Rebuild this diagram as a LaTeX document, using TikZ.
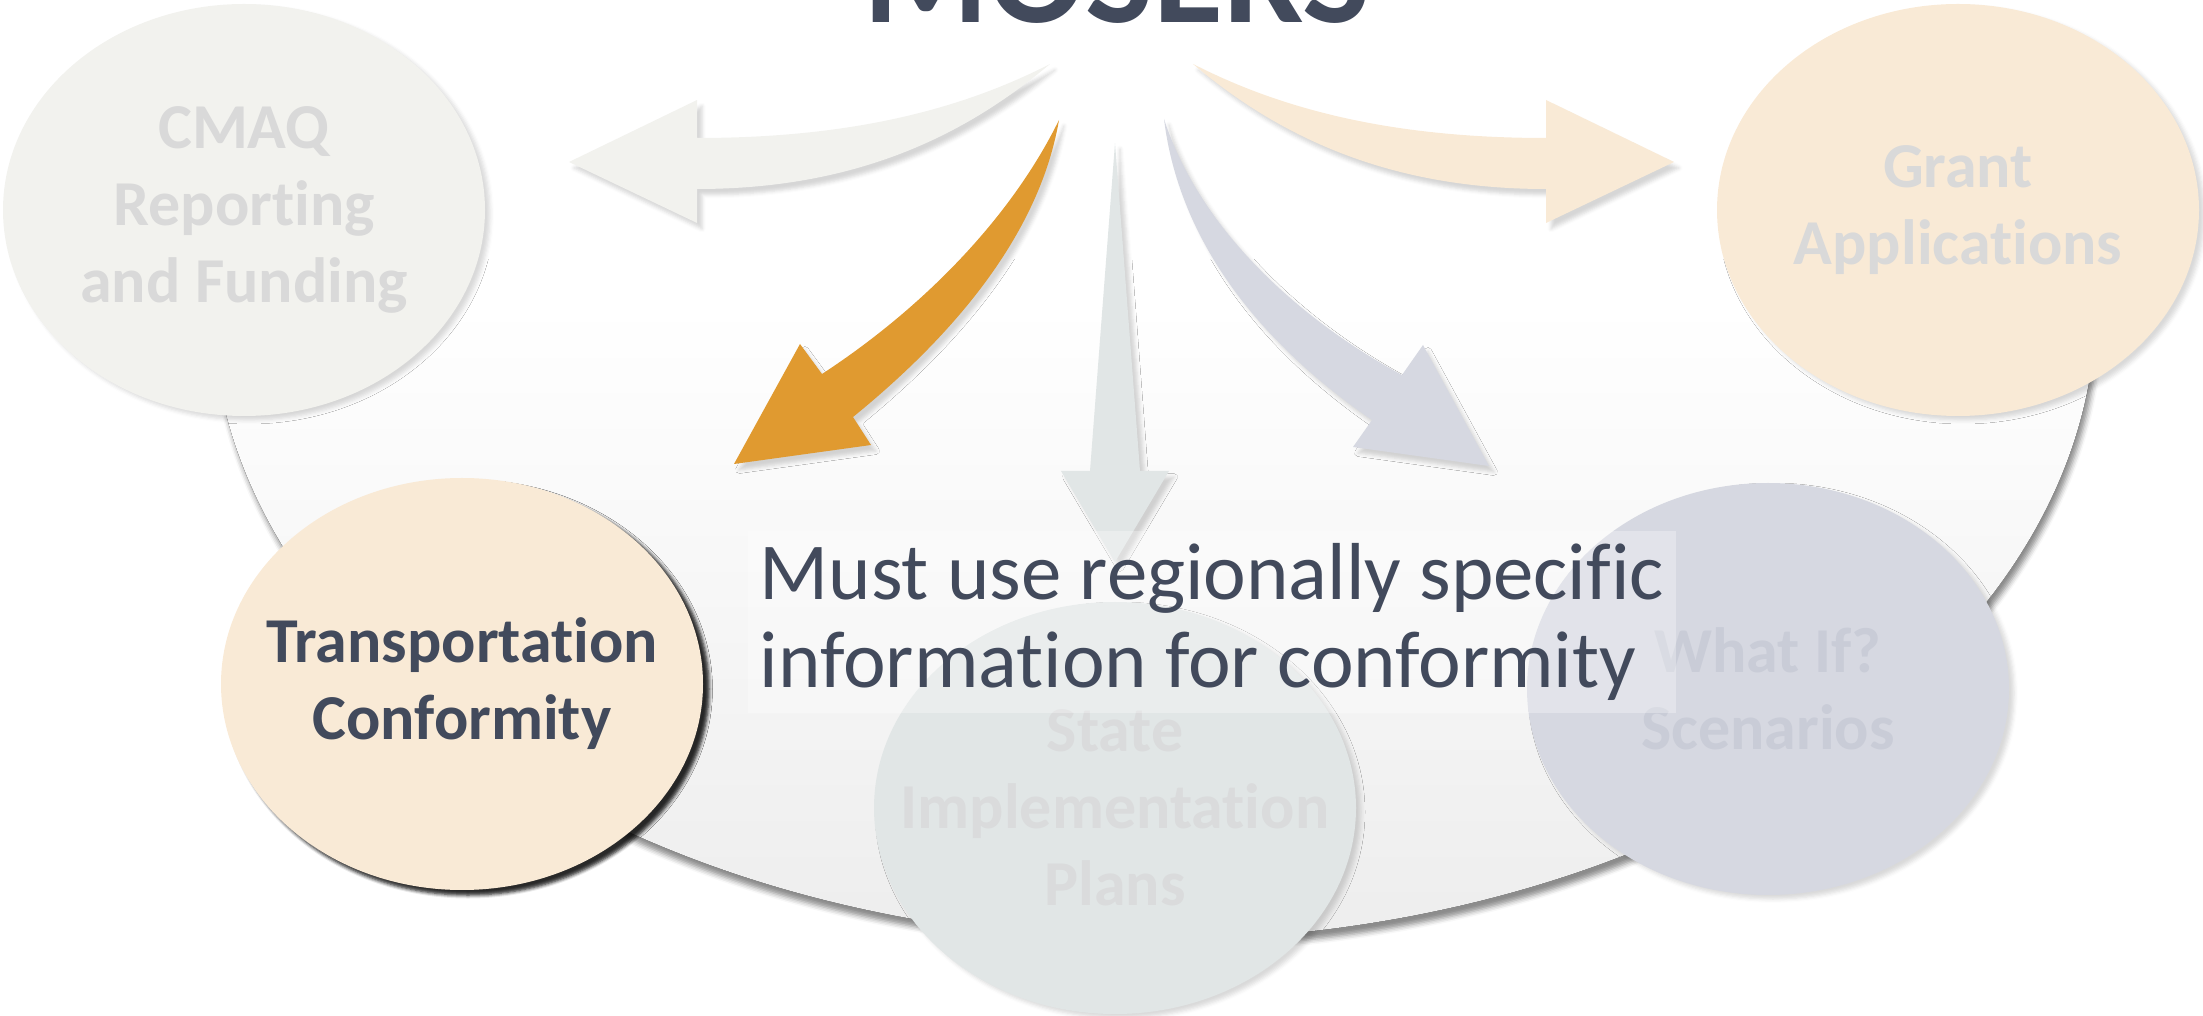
\documentclass[tikz,border=0pt]{standalone}
\usepackage{fontspec}
\setmainfont{Carlito}[Ligatures={NoCommon}]
\usepackage{xcolor}
\usetikzlibrary{shapes.geometric, shadows.blur}
\definecolor{slate}{HTML}{424A5C}
\definecolor{cmaqgray}{HTML}{F2F2EE}
\definecolor{grantsand}{HTML}{F9EAD6}
\definecolor{sipgray}{HTML}{E1E6E6}
\definecolor{lilac}{HTML}{D6D8E1}
\definecolor{amber}{HTML}{E09A30}
\definecolor{fadedtext}{HTML}{D9D9D9}
\definecolor{sipfaded}{HTML}{DADBDC}
\definecolor{lilacfaded}{HTML}{C9CCD7}

\begin{document}
\begin{tikzpicture}[x=0.1mm, y=-0.1mm,
  bubble/.style={ellipse, minimum width=48.2mm, minimum height=41.2mm, inner xsep=-14mm, inner ysep=-9mm, align=center,
    font=\bfseries\fontsize{18.2}{21.9}\selectfont,
    blur shadow={shadow xshift=0.5mm, shadow yshift=-0.4mm, shadow opacity=15, shadow blur radius=0.4mm}},
  topbubble/.style={bubble, blur shadow={shadow xshift=0.6mm, shadow yshift=-0.5mm, shadow opacity=60, shadow blur radius=0.35mm}},
  blockarrow/.style={blur shadow={shadow xshift=0.5mm, shadow yshift=-0.6mm, shadow opacity=16, shadow blur radius=0.35mm}}]
\useasboundingbox (0,0) rectangle (2203,1016);
\clip (0,0) rectangle (2203,1016);

\begin{scope}
\clip (0,260) rectangle (2203,1016);
\fill[top color=white, bottom color=gray!14, middle color=white,
  blur shadow={shadow xshift=0.3mm, shadow yshift=-0.8mm, shadow opacity=45, shadow blur radius=0.5mm}]
  (1154,304) ellipse [x radius=942, y radius=636];
\end{scope}

\node[font=\bfseries\fontsize{40.8}{44}\selectfont, text=slate, anchor=base] (mosers) at (1117,23) {MOSERS};

\node[bubble, fill=cmaqgray, text=fadedtext] (cmaq) at (244,210) {CMAQ\\Reporting\\and Funding};
\node[bubble, fill=grantsand, text=fadedtext] (grant) at (1958,210) {Grant\\Applications};
\node[topbubble, fill=grantsand, text=slate] (transconf) at (462,684) {Transportation\\Conformity};
\node[bubble, fill=sipgray, text=sipfaded] (sip) at (1115,808) {State\\Implementation\\Plans};
\node[bubble, fill=lilac, text=lilacfaded] (whatif) at (1768,689) {What If?\\Scenarios};

\fill[cmaqgray, blockarrow] (1050,64) .. controls (960,110) and (850,138) .. (697,138) -- (697,100) -- (569,162)
  -- (697,223) -- (697,189) .. controls (850,189) and (960,140) .. (1050,64) -- cycle;
\fill[grantsand, blockarrow] (1193,64) .. controls (1283,110) and (1393,138) .. (1546,138) -- (1546,100) -- (1674,162)
  -- (1546,223) -- (1546,189) .. controls (1393,189) and (1283,140) .. (1193,64) -- cycle;
\fill[amber, blockarrow] (1059,120) .. controls (1040,230) and (960,330) .. (853,417) -- (871,445) -- (734,464)
  -- (800,344) -- (822,374) .. controls (920,310) and (1010,220) .. (1059,120) -- cycle;
\fill[sipgray, blockarrow] (1115,143) -- (1140,471) -- (1169,471) -- (1115,562) -- (1061,471) -- (1090,471) -- cycle;
\fill[lilac, blockarrow] (1164,119) .. controls (1200,230) and (1300,320) .. (1402,375) -- (1423,345) -- (1489,466)
  -- (1353,447) -- (1372,420) .. controls (1270,350) and (1180,250) .. (1164,119) -- cycle;

\node[anchor=base west, align=left, text=slate, fill=white, fill opacity=0.3, text opacity=1, inner sep=1.2mm,
  font=\fontsize{23}{25.3}\selectfont] (msg) at (747,688) {Must use regionally specific\\information for conformity};
\end{tikzpicture}
\end{document}
